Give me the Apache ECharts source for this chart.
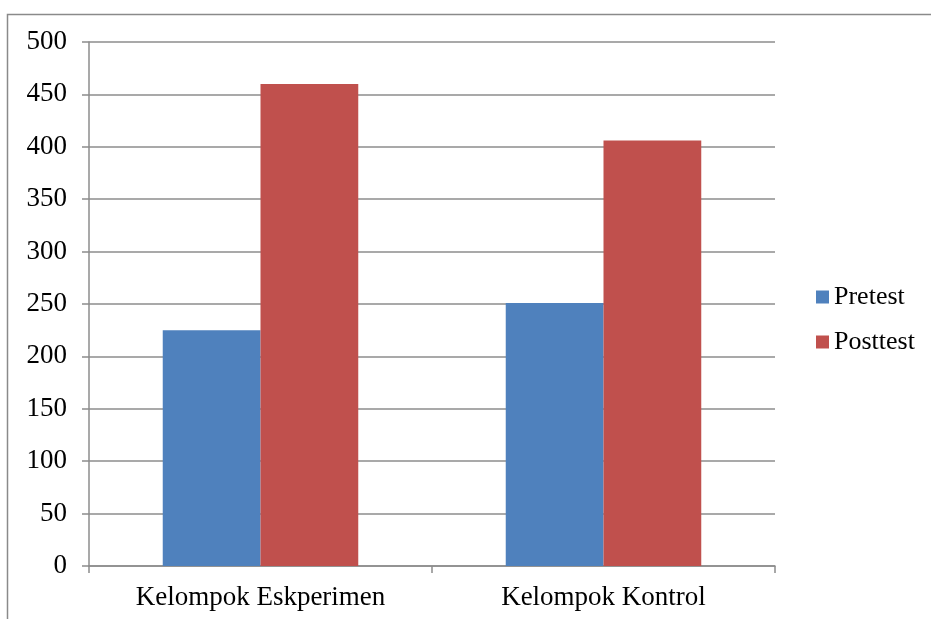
<!DOCTYPE html>
<html>
<head>
<meta charset="utf-8">
<script src="https://cdn.jsdelivr.net/npm/echarts@6/dist/echarts.min.js"></script>
<style>
  html, body { margin: 0; padding: 0; background: #fff; }
  #chart { width: 931px; height: 619px; }
</style>
</head>
<body>
<div id="chart"></div>
<script>
// Group labels and test scores
const categories = ['Kelompok Eskperimen', 'Kelompok Kontrol'];
const pretest = [225, 251];
const posttest = [460, 406];
const seriesNames = ['Pretest', 'Posttest'];
const yTicks = { min: 0, max: 500, interval: 50 };

const FONT = '"Liberation Serif", "Times New Roman", serif';
const GRID_COLOR = '#8c8c8c';

const chart = echarts.init(document.getElementById('chart'), null, { renderer: 'canvas' });

chart.setOption({
  backgroundColor: '#ffffff',
  animation: false,
  textStyle: { fontFamily: FONT },
  graphic: [
    {
      // outer chart-area frame (left and top edges visible)
      type: 'rect',
      left: 5, top: 12,
      shape: { width: 940, height: 620 },
      style: { fill: 'none', stroke: '#8a8a8a', lineWidth: 1.5 },
      silent: true
    }
  ],
  grid: { left: 89, right: 156, top: 42, bottom: 53, containLabel: false },
  legend: {
    orient: 'vertical',
    left: 816,
    top: 284,
    padding: 0,
    itemWidth: 13,
    itemHeight: 13,
    itemGap: 19,
    icon: 'rect',
    textStyle: { fontFamily: FONT, fontSize: 26, color: '#000' },
    data: seriesNames
  },
  xAxis: {
    type: 'category',
    data: categories,
    axisLine: { lineStyle: { color: GRID_COLOR, width: 1.5 } },
    axisTick: { show: true, length: 7, alignWithLabel: false, lineStyle: { color: GRID_COLOR, width: 1.5 } },
    axisLabel: { fontFamily: FONT, fontSize: 27, color: '#000', margin: 18 },
    splitLine: { show: false }
  },
  yAxis: {
    type: 'value',
    min: yTicks.min,
    max: yTicks.max,
    interval: yTicks.interval,
    axisLine: { show: true, lineStyle: { color: GRID_COLOR, width: 1.5 } },
    axisTick: { show: true, length: 7, lineStyle: { color: GRID_COLOR, width: 1.5 } },
    axisLabel: { fontFamily: FONT, fontSize: 27, color: '#000', margin: 22 },
    splitLine: { show: true, lineStyle: { color: GRID_COLOR, width: 1.5 } }
  },
  series: [
    {
      name: seriesNames[0],
      type: 'bar',
      data: pretest,
      barGap: '0%',
      barCategoryGap: '43%',
      itemStyle: { color: '#4F81BD' }
    },
    {
      name: seriesNames[1],
      type: 'bar',
      data: posttest,
      barGap: '0%',
      barCategoryGap: '43%',
      itemStyle: { color: '#C0504D' }
    }
  ]
});
</script>
</body>
</html>
